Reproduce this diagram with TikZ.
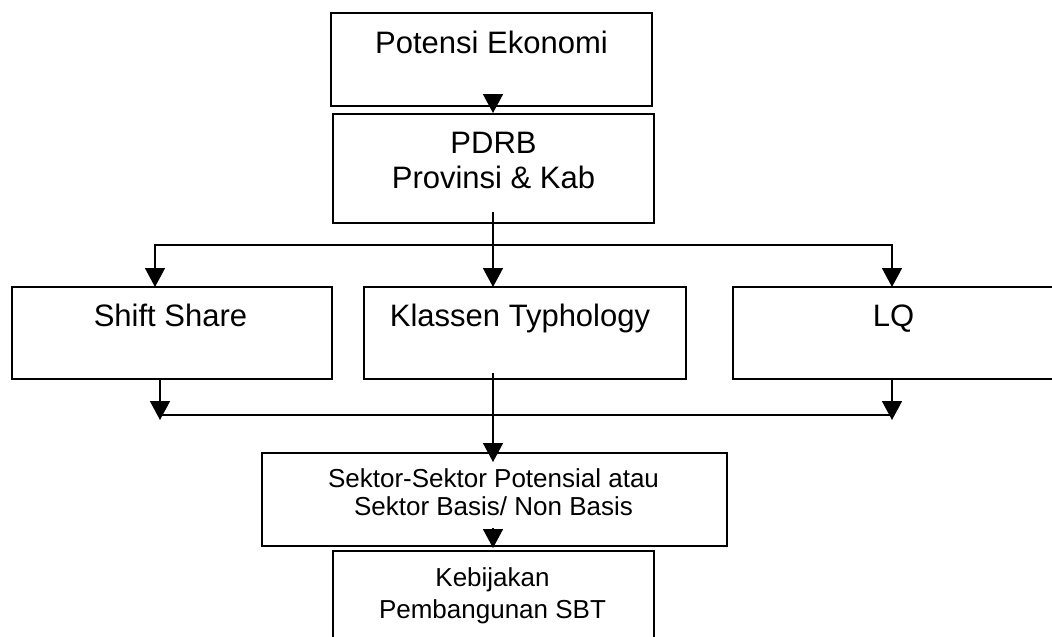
\documentclass[tikz,border=0pt]{standalone}
\usepackage{fontspec}
\setmainfont{Liberation Sans}
\usetikzlibrary{arrows.meta,calc}
\begin{document}
\begin{tikzpicture}[x=1pt,y=-1pt,
  box/.style={draw,rectangle,line width=1.6pt,inner sep=0pt,outer sep=0pt},
  big/.style={font=\fontsize{31}{35}\selectfont,anchor=base,inner sep=0pt},
  small/.style={font=\fontsize{26}{28}\selectfont,anchor=base,inner sep=0pt},
  conn/.style={line width=1.6pt},
  arr/.style={conn,-{Triangle[width=20pt,length=19pt]}},
  arrboth/.style={conn,{Triangle[width=20pt,length=19pt]}-{Triangle[width=20pt,length=19pt]}}]
\useasboundingbox (0,0) rectangle (1052,637);
\clip (0,0) rectangle (1052,637);
% boxes
\node[box,minimum width=321pt,minimum height=93pt] (pot) at (491.5,59.5) {};
\node[box,minimum width=321pt,minimum height=109pt] (pdrb) at (493.5,168.5) {};
\node[box,minimum width=320pt,minimum height=92pt] (ss) at (172,333) {};
\node[box,minimum width=322pt,minimum height=92pt] (kt) at (525,333) {};
\node[box,minimum width=324pt,minimum height=92pt] (lq) at (895,333) {};
\node[box,minimum width=465pt,minimum height=93pt] (sek) at (494.5,499.5) {};
\node[box,minimum width=321pt,minimum height=109pt] (keb) at (493.5,605.5) {};
% texts
\node[big] (tpot) at (491.5,53.3) {Potensi Ekonomi};
\node[big] (tpdrb1) at (493.5,153.3) {PDRB};
\node[big] (tpdrb2) at (493.5,188.3) {Provinsi \& Kab};
\node[big] (tss) at (170.5,326) {Shift Share};
\node[big] (tkt) at (520,326) {Klassen Typhology};
\node[big] (tlq) at (893.5,326) {LQ};
\node[small] (tsek1) at (493.5,487) {Sektor-Sektor Potensial atau};
\node[small] (tsek2) at (493.5,515) {Sektor Basis/ Non Basis};
\node[small] (tkeb1) at (492.5,586) {Kebijakan};
\node[small] (tkeb2) at (492.5,618) {Pembangunan SBT};
% connector coordinates
\coordinate (splitT) at (493,245);
\coordinate (tl) at (155,245);
\coordinate (tr) at (892,245);
\coordinate (hl) at (160,415);
\coordinate (hr) at (892,415);
% connectors
\draw[arr] ($(pot.south -| splitT)+(0,-12)$) -- ($(pdrb.north -| splitT)+(0,-1)$);
\draw[conn] ($(pdrb.south -| splitT)+(0,-11)$) -- (splitT);
\draw[arrboth,line join=miter] (tl |- ss.north) -- (tl) -- (tr) -- (tr |- lq.north);
\draw[arr] (splitT) -- (splitT |- kt.north);
\draw[conn] (hl) -- (hr);
\draw[arr] (hl |- ss.south) -- ($(hl)+(0,5)$);
\draw[arr] (hr |- lq.south) -- ($(hr)+(0,5)$);
\draw[arr] ($(kt.south -| splitT)+(0,-6)$) -- ($(sek.north -| splitT)+(0,9)$);
\draw[arr] ($(sek.south -| splitT)+(0,-18)$) -- ($(keb.north -| splitT)+(0,-3)$);
\end{tikzpicture}
\end{document}
